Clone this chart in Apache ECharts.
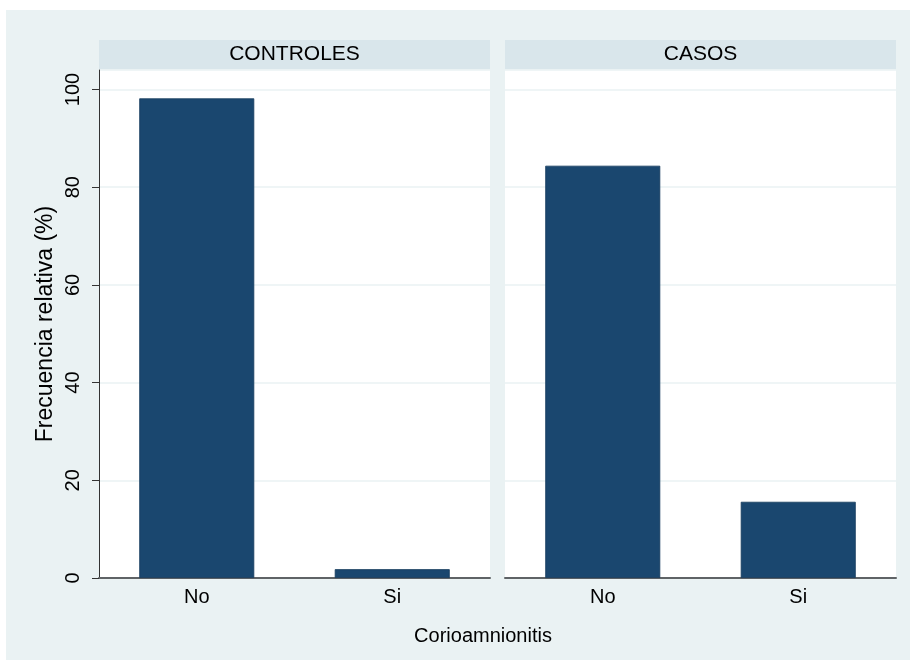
<!DOCTYPE html>
<html>
<head>
<meta charset="utf-8">
<script src="https://cdn.jsdelivr.net/npm/echarts@6/dist/echarts.min.js"></script>
<style>
  html, body { margin: 0; padding: 0; background: #fff; }
  #chart { width: 916px; height: 666px; }
</style>
</head>
<body>
<div id="chart"></div>
<script>
// Relative frequency (%) of chorioamnionitis, by group
const categories = ['No', 'Si'];
const panelTitles = ['CONTROLES', 'CASOS'];
const controles = [98.2, 1.8];
const casos = [84.4, 15.6];
const yMin = 0, yMax = 104, yStep = 20;

const FONT = '"Liberation Sans", Arial, Helvetica, sans-serif';
const BG = '#eaf2f3';
const STRIP = '#d9e6eb';
const BAR = '#1a476f';

const panels = [
  { left: 99, width: 391, data: controles },
  { left: 505, width: 391, data: casos }
];
const gridTop = 70, gridBottomY = 578;

const chart = echarts.init(document.getElementById('chart'), null, { renderer: 'canvas' });

const grids = panels.map(p => ({
  left: p.left, top: gridTop, width: p.width, height: gridBottomY - gridTop,
  show: true, backgroundColor: '#fff', borderWidth: 0, containLabel: false
}));

const xAxes = panels.map((p, i) => ({
  type: 'category', gridIndex: i, data: categories,
  axisLine: { show: true, lineStyle: { color: '#5f6366', width: 2 } },
  axisTick: { show: false },
  axisLabel: { color: '#000', fontFamily: FONT, fontSize: 20, margin: 9 }
}));

const yAxes = panels.map((p, i) => ({
  type: 'value', gridIndex: i, min: yMin, max: yMax, interval: yStep,
  name: i === 0 ? 'Frecuencia relativa (%)' : '',
  nameLocation: 'middle', nameRotate: 90, nameGap: 42,
  nameTextStyle: { color: '#000', fontFamily: FONT, fontSize: 23 },
  axisLine: { show: i === 0, lineStyle: { color: '#333', width: 1 } },
  axisTick: { show: i === 0, length: 7, lineStyle: { color: '#333' } },
  axisLabel: {
    show: i === 0, rotate: 90, color: '#000', fontFamily: FONT, fontSize: 20,
    margin: 16, showMaxLabel: false,
    formatter: v => (v > 100 ? '' : String(v))
  },
  splitLine: { show: true, lineStyle: { color: BG, width: 1.5 } }
}));

const series = panels.map((p, i) => ({
  type: 'bar', xAxisIndex: i, yAxisIndex: i, data: p.data,
  barWidth: 115,
  itemStyle: { color: BAR, borderColor: '#163c5e', borderWidth: 0.8 },
  silent: true
}));

const graphics = [
  { type: 'rect', z: -10, shape: { x: 6, y: 10, width: 904, height: 650 }, style: { fill: BG } }
];
panels.forEach((p, i) => {
  graphics.push({
    type: 'rect', z: -5,
    shape: { x: p.left, y: 40, width: p.width, height: 29 },
    style: { fill: STRIP }
  });
  graphics.push({
    type: 'text', z: 5,
    x: p.left + p.width / 2, y: 54.5,
    style: {
      text: panelTitles[i], fill: '#000', font: '21px ' + FONT,
      textAlign: 'center', textVerticalAlign: 'middle'
    }
  });
});
graphics.push({
  type: 'text', z: 5, x: 483, y: 636,
  style: {
    text: 'Corioamnionitis', fill: '#000', font: '20px ' + FONT,
    textAlign: 'center', textVerticalAlign: 'middle'
  }
});

chart.setOption({
  backgroundColor: '#fff',
  animation: false,
  grid: grids,
  xAxis: xAxes,
  yAxis: yAxes,
  series: series,
  graphic: graphics
});
</script>
</body>
</html>
